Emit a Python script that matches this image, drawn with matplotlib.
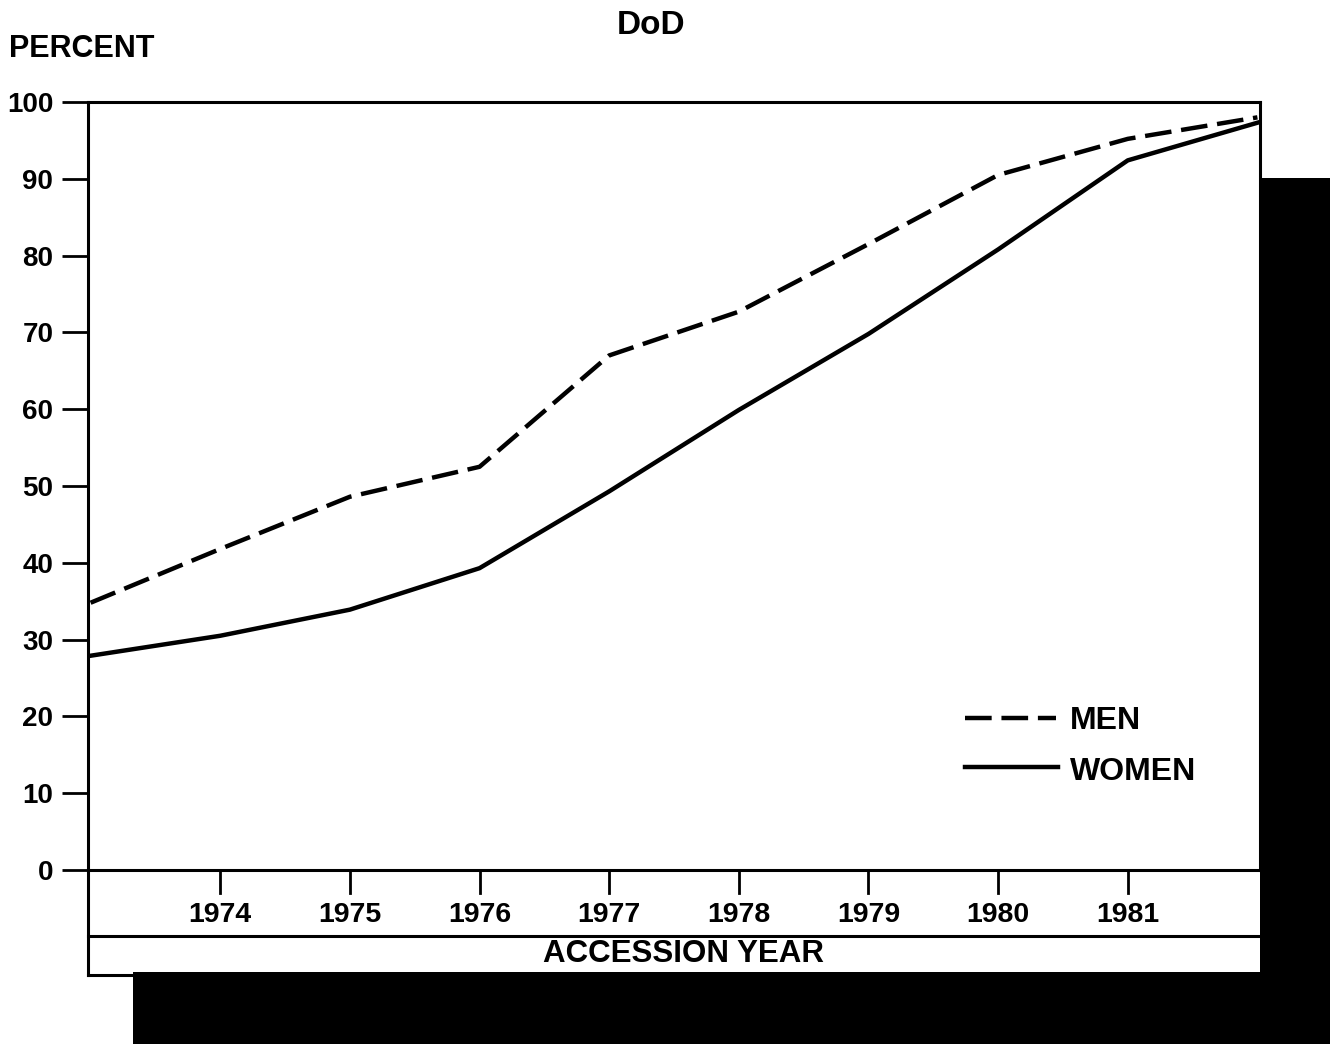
import matplotlib
matplotlib.use('Agg')
import matplotlib.pyplot as plt
from matplotlib.patches import Rectangle
from matplotlib.lines import Line2D

years = [1973, 1974, 1975, 1976, 1977, 1978, 1979, 1980, 1981, 1982]
men = [34.8, 41.8, 48.6, 52.5, 67.0, 72.7, 81.5, 90.5, 95.2, 98.0]
women = [27.9, 30.5, 33.9, 39.3, 49.3, 59.9, 69.8, 80.8, 92.4, 97.3]
tick_years = [1974, 1975, 1976, 1977, 1978, 1979, 1980, 1981]
y_ticks = [0, 10, 20, 30, 40, 50, 60, 70, 80, 90, 100]

W, H = 1337, 1044
font = ['Liberation Sans', 'DejaVu Sans']


def fx(px):
    return px / W


def fy(py):
    return 1 - py / H


fig = plt.figure(figsize=(W / 100, H / 100), dpi=100)
ax = fig.add_axes([fx(88), fy(870), fx(1260) - fx(88), fy(102) - fy(870)])

ax.plot(years, men, color='black', lw=3.2, dashes=(6, 2.2), solid_capstyle='butt')
ax.plot(years, women, color='black', lw=3.2)

ax.set_xlim(1972.98, 1982.02)
ax.set_ylim(0, 100)
ax.set_yticks(y_ticks)
ax.set_yticklabels([str(v) for v in y_ticks], family=font, fontweight='bold', fontsize=20)
ax.tick_params(axis='y', direction='out', length=19, width=2, pad=6)
ax.set_xticks(tick_years)
ax.set_xticklabels([str(v) for v in tick_years], family=font, fontweight='bold', fontsize=20.5)
ax.tick_params(axis='x', direction='in', length=0, pad=23)
for sp in ax.spines.values():
    sp.set_linewidth(2.2)

# downward tick marks under the axis
for yr in tick_years:
    ax.plot([yr, yr], [0, -3], color='black', lw=2, clip_on=False)

# box below the axis
fig.add_artist(Line2D([fx(88), fx(88)], [fy(870), fy(975)], color='black', lw=2.2))
fig.add_artist(Line2D([fx(88), fx(1260)], [fy(936), fy(936)], color='black', lw=2.2))
fig.add_artist(Line2D([fx(88), fx(140)], [fy(975), fy(975)], color='black', lw=2.2))

# shadows
fig.add_artist(Rectangle((fx(1260), fy(1044)), fx(1330) - fx(1260), fy(178) - fy(1044),
                         facecolor='black', edgecolor='none'))
fig.add_artist(Rectangle((fx(133), fy(1044)), fx(1330) - fx(133), fy(972) - fy(1044),
                         facecolor='black', edgecolor='none'))

fig.text(fx(651), fy(26), 'DoD', ha='center', va='center', family=font,
         fontweight='bold', fontsize=24)
fig.text(fx(9), fy(49), 'PERCENT', ha='left', va='center', family=font,
         fontweight='bold', fontsize=22)
fig.text(fx(683), fy(954), 'ACCESSION YEAR', ha='center', va='center', family=font,
         fontweight='bold', fontsize=22.5)

# legend
fig.add_artist(Line2D([fx(965), fx(1056)], [fy(718), fy(718)], color='black', lw=3.2,
                      dashes=(6, 2.2)))
fig.add_artist(Line2D([fx(965), fx(1058)], [fy(767), fy(767)], color='black', lw=3.2))
fig.text(fx(1070), fy(721), 'MEN', ha='left', va='center', family=font,
         fontweight='bold', fontsize=23)
fig.text(fx(1070), fy(772), 'WOMEN', ha='left', va='center', family=font,
         fontweight='bold', fontsize=23)

fig.savefig('out.png', dpi=100, facecolor='white')
